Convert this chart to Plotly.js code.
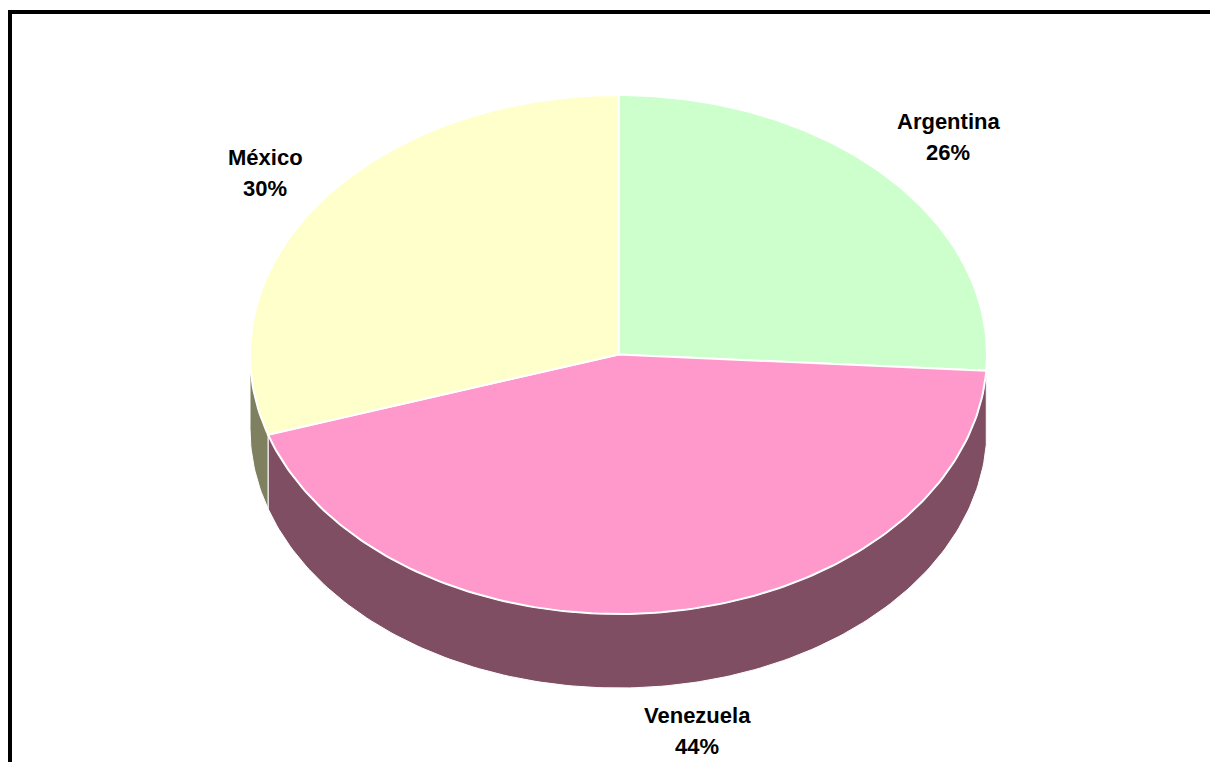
<!DOCTYPE html>
<html>
<head>
<meta charset="utf-8">
<script src="https://cdn.plot.ly/plotly-3.0.1.min.js"></script>
<style>html,body{margin:0;padding:0;background:#fff;}#chart{width:1210px;height:762px;}</style>
</head>
<body>
<div id="chart"></div>
<script>
// ---- data ----
const categories = ['Argentina', 'Venezuela', 'México'];
const values = [26, 44, 30];
const topColors = ['#CCFFCC', '#FF99CC', '#FFFFCC'];
const sideColors = ['#66806A', '#804E63', '#7F8060'];

// ---- geometry (layout constants) ----
const W = 1210, H = 762;
const cx = 618.5, cy = 354.5, rx = 368.5, ry = 259.5, depth = 74;
const labelPos = [[948, 121], [697, 715], [265, 157]];

function pt(deg, dy) {
  const r = deg * Math.PI / 180;
  return [cx + rx * Math.sin(r), cy - ry * Math.cos(r) + (dy || 0)];
}
function arc(a, b, dy) {
  const out = [];
  const n = Math.max(2, Math.ceil(Math.abs(b - a)));
  for (let i = 0; i <= n; i++) out.push(pt(a + (b - a) * i / n, dy));
  return out;
}

const total = values.reduce((s, v) => s + v, 0);
const angles = [];
let acc = 0;
values.forEach(v => { const a = acc / total * 360; acc += v; angles.push([a, acc / total * 360]); });

const traces = [];
// side walls (front half only: 90..270 degrees clockwise from top)
angles.forEach(([a, b], i) => {
  const s = Math.max(a, 90), e = Math.min(b, 270);
  if (s >= e) return;
  const pts = arc(s, e, 0).concat(arc(e, s, depth));
  pts.push(pts[0]);
  traces.push({
    type: 'scatter', mode: 'lines', fill: 'toself',
    x: pts.map(p => p[0]), y: pts.map(p => p[1]),
    fillcolor: sideColors[i], line: {color: '#ffffff', width: 1},
    hoverinfo: 'skip', showlegend: false
  });
});
// top faces
angles.forEach(([a, b], i) => {
  const pts = [[cx, cy]].concat(arc(a, b, 0));
  pts.push([cx, cy]);
  traces.push({
    type: 'scatter', mode: 'lines', fill: 'toself',
    x: pts.map(p => p[0]), y: pts.map(p => p[1]),
    fillcolor: topColors[i], line: {color: '#ffffff', width: 2},
    hoverinfo: 'skip', showlegend: false
  });
});

const annotations = [];
const fnt = {family: 'Liberation Sans, Arial, sans-serif', size: 22, color: '#000'};
categories.forEach((c, i) => {
  const pct = Math.round(values[i] / total * 100) + '%';
  annotations.push({x: labelPos[i][0], y: labelPos[i][1], xref: 'x', yref: 'y', text: '<b>' + c + '</b>', showarrow: false,
    font: fnt, xanchor: 'center', yanchor: 'middle'});
  annotations.push({x: labelPos[i][0], y: labelPos[i][1] + 31, xref: 'x', yref: 'y', text: '<b>' + pct + '</b>', showarrow: false,
    font: fnt, xanchor: 'center', yanchor: 'middle'});
});

const layout = {
  width: W, height: H,
  margin: {l: 0, r: 0, t: 0, b: 0},
  paper_bgcolor: '#ffffff', plot_bgcolor: '#ffffff',
  xaxis: {range: [0, W], visible: false, fixedrange: true},
  yaxis: {range: [H, 0], visible: false, fixedrange: true},
  showlegend: false,
  annotations: annotations,
  shapes: [
    {type: 'line', xref: 'paper', yref: 'paper', x0: 10 / W, x1: 1, y0: 1 - 12 / H, y1: 1 - 12 / H, line: {color: '#000', width: 4}},
    {type: 'line', xref: 'paper', yref: 'paper', x0: 10 / W, x1: 10 / W, y0: 0, y1: 1 - 10 / H, line: {color: '#000', width: 4}}
  ]
};

Plotly.newPlot('chart', traces, layout, {displayModeBar: false, staticPlot: true});
</script>
</body>
</html>
